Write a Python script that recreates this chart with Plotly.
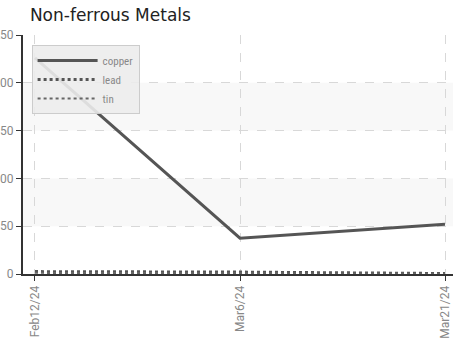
import plotly.graph_objects as go

categories = ["Feb12/24", "Mar6/24", "Mar21/24"]
copper = [226, 37.5, 52]
lead = [2.5, 2, 0.5]
tin = [1.2, 1, 0.3]
y_ticks = [0, 50, 100, 150, 200, 250]
bands = [(50, 100), (150, 200)]

fig = go.Figure()
fig.add_trace(go.Scatter(x=categories, y=copper, name="copper", mode="lines",
                         line=dict(color="#555555", width=3)))
fig.add_trace(go.Scatter(x=categories, y=lead, name="lead", mode="lines",
                         line=dict(color="#555555", width=3, dash="dot")))
fig.add_trace(go.Scatter(x=categories, y=tin, name="tin", mode="lines",
                         line=dict(color="#666666", width=2, dash="dot")))

for y0, y1 in bands:
    fig.add_shape(type="rect", xref="paper", yref="y", x0=0, x1=1, y0=y0, y1=y1,
                  fillcolor="#f8f8f8", line=dict(width=0), layer="below")

fig.update_layout(
    width=453, height=343,
    margin=dict(l=23, r=0, t=35, b=69, autoexpand=False),
    paper_bgcolor="white", plot_bgcolor="white",
    title=dict(text="Non-ferrous Metals", x=0.066, xanchor="left", y=0.955, yanchor="middle",
               font=dict(family="DejaVu Sans", size=17, color="#222222")),
    showlegend=True,
    legend=dict(x=0.02, y=0.958, xanchor="left", yanchor="top",
                bgcolor="rgba(236,236,236,0.9)", bordercolor="#cccccc", borderwidth=1,
                font=dict(family="Roboto Condensed, Liberation Sans Narrow, Roboto", size=11, color="#888888"),
                tracegroupgap=0, itemwidth=60),
    font=dict(family="Liberation Sans Narrow, Roboto", size=11, color="#888888"),
)
fig.update_xaxes(type="category", range=[-0.0585, 2.039], automargin=False,
                 showgrid=True, gridcolor="#d8d8d8", griddash="dash", gridwidth=1,
                 showline=True, linecolor="#333333", linewidth=2,
                 ticks="outside", ticklen=5, tickcolor="#333333",
                 tickangle=-90, tickfont=dict(size=12, color="#888888"), zeroline=False)
fig.update_yaxes(range=[0, 250], tickvals=y_ticks, automargin=False,
                 showgrid=True, gridcolor="#d8d8d8", griddash="dash", gridwidth=1,
                 showline=True, linecolor="#333333", linewidth=2,
                 ticks="outside", ticklen=5, tickcolor="#333333",
                 tickfont=dict(size=12, color="#888888"), zeroline=False)

fig.write_html("out.html")
